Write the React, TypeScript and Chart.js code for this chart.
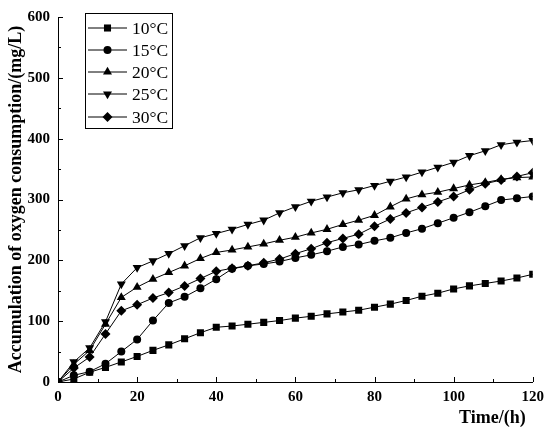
import React, { useEffect, useRef } from 'react';
import { Chart, registerables } from 'chart.js';
import { drawPoint } from 'chart.js/helpers';

Chart.register(...registerables);

const times = [0, 4, 8, 12, 16, 20, 24, 28, 32, 36, 40, 44, 48, 52, 56, 60, 64, 68, 72, 76, 80, 84, 88, 92, 96, 100, 104, 108, 112, 116, 120];

const seriesNames = ['10°C', '15°C', '20°C', '25°C', '30°C'];

const s10 = [0, 5, 16, 24, 33, 42, 52, 61, 71, 81, 90, 92, 95, 98, 101, 105, 108, 112, 115, 118, 123, 128, 134, 141, 146, 153, 158, 162, 166, 171, 177];
const s15 = [0, 11, 17, 30, 50, 70, 101, 130, 140, 154, 169, 186, 191, 194, 198, 204, 209, 215, 222, 226, 232, 237, 245, 252, 261, 270, 279, 289, 299, 302, 305];
const s20 = [0, 29, 52, 95, 139, 156, 169, 180, 191, 203, 213, 217, 222, 227, 233, 238, 245, 251, 259, 266, 274, 288, 301, 308, 312, 318, 324, 328, 333, 336, 337];
const s25 = [0, 33, 56, 99, 161, 188, 199, 211, 224, 237, 244, 251, 259, 266, 278, 288, 297, 304, 311, 316, 323, 330, 337, 345, 353, 361, 372, 380, 390, 394, 397];
const s30 = [0, 23, 41, 79, 117, 127, 138, 147, 158, 170, 182, 187, 191, 196, 202, 211, 219, 229, 236, 243, 256, 268, 278, 287, 296, 305, 316, 326, 332, 338, 344];

const xTicksMajor = [0, 20, 40, 60, 80, 100, 120];
const yTicksMajor = [0, 100, 200, 300, 400, 500, 600];

const xTitle = 'Time/(h)';
const yTitle = 'Accumulation of oxygen consumption/(mg/L)';

const FONT = '"Liberation Serif", "Times New Roman", serif';

export default function App() {
  const ref = useRef<HTMLCanvasElement | null>(null);

  useEffect(() => {
    document.body.style.margin = '0';
    const canvas = ref.current;
    if (!canvas) return;

    const allSeries = [s10, s15, s20, s25, s30];
    const styles = [
      { pointStyle: 'rect', rotation: 0, radius: 5 },
      { pointStyle: 'circle', rotation: 0, radius: 4 },
      { pointStyle: 'triangle', rotation: 0, radius: 5.2 },
      { pointStyle: 'triangle', rotation: 180, radius: 5.2 },
      { pointStyle: 'rectRot', rotation: 0, radius: 5 },
    ];

    const datasets = allSeries.map((vals, i) => ({
      label: seriesNames[i],
      data: vals.map((v, j) => ({ x: times[j], y: v })),
      borderColor: '#000',
      backgroundColor: '#000',
      borderWidth: 1,
      pointStyle: styles[i].pointStyle as any,
      rotation: styles[i].rotation,
      pointRadius: styles[i].radius,
      pointBorderWidth: 0,
      pointBackgroundColor: '#000',
      tension: 0,
    }));

    const tickPlugin = {
      id: 'inwardTicks',
      afterDatasetsDraw(chart: any) {
        const ctx = chart.ctx;
        const xs = chart.scales.x;
        const ys = chart.scales.y;
        const area = chart.chartArea;
        ctx.save();
        ctx.strokeStyle = '#000';
        ctx.lineWidth = 1;
        ctx.beginPath();
        for (let k = 0; k < xTicksMajor.length; k++) {
          const px = Math.round(xs.getPixelForValue(xTicksMajor[k])) + 0.5;
          ctx.moveTo(px, area.bottom);
          ctx.lineTo(px, area.bottom - 5);
          if (k < xTicksMajor.length - 1) {
            const mid = (xTicksMajor[k] + xTicksMajor[k + 1]) / 2;
            const pm = Math.round(xs.getPixelForValue(mid)) + 0.5;
            ctx.moveTo(pm, area.bottom);
            ctx.lineTo(pm, area.bottom - 3);
          }
        }
        for (let k = 0; k < yTicksMajor.length; k++) {
          const py = Math.round(ys.getPixelForValue(yTicksMajor[k])) + 0.5;
          ctx.moveTo(area.left, py);
          ctx.lineTo(area.left + 5, py);
          if (k < yTicksMajor.length - 1) {
            const mid = (yTicksMajor[k] + yTicksMajor[k + 1]) / 2;
            const pm = Math.round(ys.getPixelForValue(mid)) + 0.5;
            ctx.moveTo(area.left, pm);
            ctx.lineTo(area.left + 3, pm);
          }
        }
        ctx.stroke();
        ctx.restore();
      },
    };

    const legendPlugin = {
      id: 'boxLegend',
      afterDraw(chart: any) {
        const ctx = chart.ctx;
        const area = chart.chartArea;
        ctx.save();
        // x-axis title
        ctx.fillStyle = '#000';
        ctx.font = `bold 18px ${FONT}`;
        ctx.textAlign = 'right';
        ctx.textBaseline = 'alphabetic';
        ctx.fillText(xTitle, area.right - 7, 423);

        const bx = 85.5, by = 13.5, bw = 87, bh = 115;
        ctx.fillStyle = '#fff';
        ctx.fillRect(bx, by, bw, bh);
        ctx.strokeStyle = '#000';
        ctx.lineWidth = 1;
        ctx.strokeRect(bx, by, bw, bh);
        const rowY = [28, 50, 72, 94, 117];
        ctx.font = `17.5px ${FONT}`;
        ctx.textBaseline = 'middle';
        ctx.textAlign = 'left';
        chart.data.datasets.forEach((ds: any, i: number) => {
          const y = rowY[i];
          ctx.strokeStyle = '#000';
          ctx.lineWidth = 1;
          ctx.beginPath();
          ctx.moveTo(88, y);
          ctx.lineTo(127, y);
          ctx.stroke();
          ctx.fillStyle = '#000';
          drawPoint(ctx, { pointStyle: ds.pointStyle, rotation: ds.rotation, radius: ds.pointRadius, borderWidth: 0 } as any, 107.5, y);
          ctx.fillStyle = '#000';
          ctx.fillText(ds.label, 132, y + 1);
        });
        ctx.restore();
      },
    };

    const chart = new Chart(canvas, {
      type: 'line',
      data: { datasets },
      options: {
        animation: false,
        responsive: false,
        devicePixelRatio: 1,
        layout: { padding: { left: 0, right: 15, top: 14, bottom: 0 } },
        plugins: {
          legend: { display: false },
          tooltip: { enabled: false },
        },
        scales: {
          x: {
            type: 'linear',
            min: 0,
            max: 120,
            grid: { display: false, drawTicks: false },
            border: { display: true, color: '#000', width: 1 },
            ticks: {
              stepSize: 20,
              color: '#000',
              padding: 6,
              font: { family: FONT, size: 15, weight: 'bold' },
            },
            afterFit(scale: any) {
              scale.height = 52;
            },
          },
          y: {
            type: 'linear',
            min: 0,
            max: 600,
            grid: { display: false, drawTicks: false },
            border: { display: true, color: '#000', width: 1 },
            ticks: {
              stepSize: 100,
              color: '#000',
              padding: 8,
              font: { family: FONT, size: 15, weight: 'bold' },
            },
            title: {
              display: true,
              text: yTitle,
              color: '#000',
              padding: { top: 6, bottom: 0 },
              font: { family: FONT, size: 18, weight: 'bold' },
            },
            afterFit(scale: any) {
              scale.width = 58;
            },
          },
        },
      },
      plugins: [tickPlugin, legendPlugin],
    });

    return () => chart.destroy();
  }, []);

  return (
    <div style={{ width: 550, height: 434, background: '#fff' }}>
      <canvas ref={ref} width={550} height={434} />
    </div>
  );
}
